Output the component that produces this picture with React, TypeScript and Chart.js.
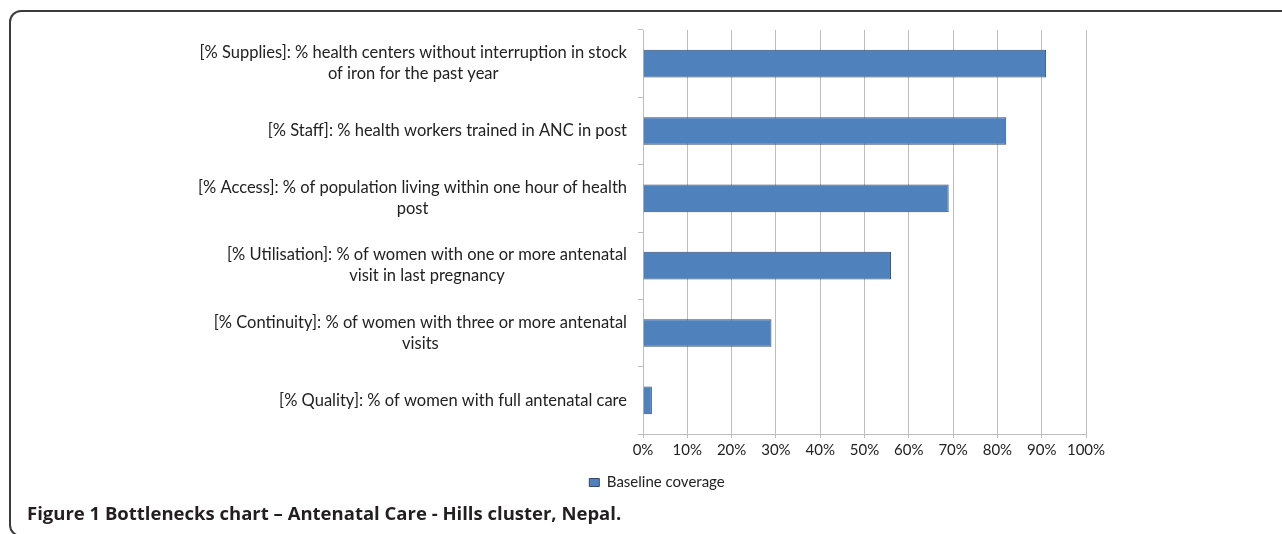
import React, { useEffect, useRef } from "react";
import { Chart, registerables } from "chart.js";

Chart.register(...registerables);

const categories: string[][] = [
  ["[% Supplies]: % health centers without interruption in stock", "of iron for the past year"],
  ["[% Staff]: % health workers trained in ANC in post"],
  ["[% Access]: % of population living within one hour of health", "post"],
  ["[% Utilisation]: % of women with one or more antenatal", "visit in last pregnancy"],
  ["[% Continuity]: % of women with three or more antenatal", "visits"],
  ["[% Quality]: % of women with full antenatal care"],
];
const baselineCoverage: number[] = [91, 82, 69, 56, 29, 2];
const seriesName = "Baseline coverage";
const xTicks: number[] = [0, 10, 20, 30, 40, 50, 60, 70, 80, 90, 100];
const caption = "Figure 1 Bottlenecks chart \u2013 Antenatal Care - Hills cluster, Nepal.";

const FONT = "Lato, 'Open Sans', sans-serif";
const TEXT = "#222222";
const GRID = "#bdbdbd";

const yLabelPlugin = {
  id: "centeredYLabels",
  afterDraw(chart: any) {
    const scale = chart.scales.y;
    const ctx = chart.ctx;
    ctx.save();
    ctx.font = `16.5px ${FONT}`;
    ctx.fillStyle = TEXT;
    ctx.textAlign = "center";
    ctx.textBaseline = "middle";
    const rightEdge = scale.right - 16;
    const lineH = 21;
    categories.forEach((lines, i) => {
      const y = scale.getPixelForTick(i);
      const w = Math.max(...lines.map((l) => ctx.measureText(l).width));
      const cx = rightEdge - w / 2;
      lines.forEach((l, j) => {
        ctx.fillText(l, cx, y + (j - (lines.length - 1) / 2) * lineH);
      });
    });
    ctx.restore();
  },
};

export default function App() {
  const ref = useRef<HTMLCanvasElement | null>(null);
  useEffect(() => {
    if (!ref.current) return;
    const chart = new Chart(ref.current, {
      type: "bar",
      data: {
        labels: categories.map((c) => c.join(" ")),
        datasets: [
          {
            label: seriesName,
            data: baselineCoverage,
            backgroundColor: "#4f81bd",
            borderColor: "#34496a",
            borderWidth: 1,
            barPercentage: 0.41,
            categoryPercentage: 1,
          },
        ],
      },
      options: {
        indexAxis: "y",
        animation: false,
        responsive: false,
        maintainAspectRatio: false,
        layout: { padding: { left: 228, right: 196, top: 30, bottom: 34 } },
        scales: {
          x: {
            min: 0,
            max: 100,
            afterBuildTicks: (scale: any) => {
              scale.ticks = xTicks.map((v) => ({ value: v }));
            },
            afterFit: (scale: any) => {
              scale.height = 31;
            },
            grid: { color: GRID, tickLength: 4, lineWidth: 1 },
            border: { color: GRID },
            ticks: {
              padding: 3,
              color: TEXT,
              font: { family: FONT, size: 15 },
              callback: (v: any) => `${v}%`,
              maxRotation: 0,
            },
          },
          y: {
            afterFit: (scale: any) => {
              scale.width = 415;
            },
            grid: { drawOnChartArea: false, offset: true, tickLength: 5, color: GRID },
            border: { color: GRID },
            ticks: { display: false },
          },
        },
        plugins: {
          legend: {
            position: "bottom",
            labels: {
              boxWidth: 10,
              boxHeight: 8,
              padding: 10,
              color: TEXT,
              font: { family: FONT, size: 15 },
            },
          },
          tooltip: { enabled: false },
        },
      },
      plugins: [yLabelPlugin],
    });
    return () => chart.destroy();
  }, []);

  return (
    <div
      style={{
        position: "fixed",
        left: 0,
        top: 0,
        width: 1282,
        height: 534,
        background: "#fff",
        overflow: "hidden",
      }}
    >
      <div
        style={{
          position: "absolute",
          left: 9,
          top: 10,
          width: 1320,
          height: 527,
          border: "2px solid #3c3c3c",
          borderRadius: 12,
          boxSizing: "border-box",
        }}
      />
      <canvas
        ref={ref}
        width={1282}
        height={534}
        style={{ position: "absolute", left: 0, top: 0, width: 1282, height: 534 }}
      />
      <div
        style={{
          position: "absolute",
          left: 27,
          top: 502,
          fontFamily: "'Open Sans', sans-serif",
          fontWeight: 700,
          fontSize: 18.5,
          lineHeight: "22px",
          color: "#231f20",
          whiteSpace: "nowrap",
        }}
      >
        {caption}
      </div>
    </div>
  );
}
